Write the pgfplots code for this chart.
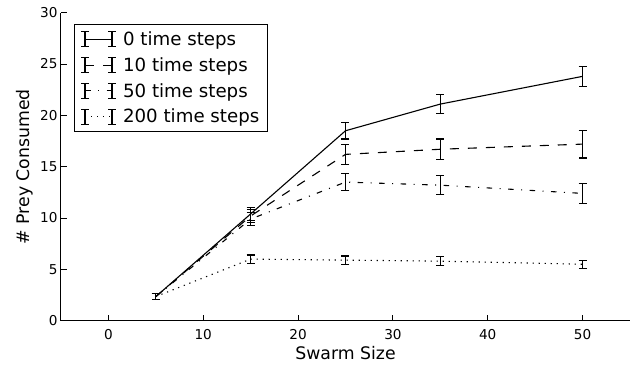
\documentclass[border=0pt]{standalone}
\usepackage{pgfplots}
\pgfplotsset{compat=1.18}
\usepackage{fontspec}
\setmainfont{DejaVu Sans}
\pgfplotsset{
  errleg/.style={legend image code/.code={
    \draw[##1] (0pt,0pt) -- (27pt,0pt);
    \draw[solid,line width=1.1pt] (0pt,-7.5pt) -- (0pt,7.5pt) (-4pt,-7.5pt) -- (4pt,-7.5pt) (-4pt,7.5pt) -- (4pt,7.5pt)
      (27pt,-7.5pt) -- (27pt,7.5pt) (23pt,-7.5pt) -- (31pt,-7.5pt) (23pt,7.5pt) -- (31pt,7.5pt);
  }}
}
\begin{document}
\begin{tikzpicture}
\useasboundingbox (-61pt,-46.3pt) rectangle (573pt,320.7pt);
\begin{axis}[
  scale only axis,
  width=569pt, height=308pt,
  xmin=-5, xmax=55, ymin=0, ymax=30,
  axis lines=left,
  axis line style={-, line width=1pt},
  tick align=inside,
  major tick length=6pt,
  tick style={line width=1pt, black},
  xtick={0,10,20,30,40,50},
  ytick={0,5,10,15,20,25,30},
  /pgf/number format/assume math mode=true,
  tick label style={font=\fontsize{13.6}{16}\selectfont},
  xticklabel style={yshift=-5pt},
  label style={font=\fontsize{17.3}{20}\selectfont},
  xlabel={Swarm Size},
  ylabel={\# Prey Consumed},
  legend style={at={(axis description cs:0.0158,0.976)}, anchor=north west,
    xshift=4pt, yshift=-4pt,
    font=\fontsize{18.2}{21}\selectfont, draw=black, line width=1pt,
    cells={anchor=west}, row sep=6.5pt, column sep=4.5pt, inner xsep=6pt, inner ysep=5pt},
  legend cell align=left,
  errleg,
  every axis plot/.append style={black, line width=1.1pt},
  error bars/y dir=both, error bars/y explicit,
  error bars/error bar style={solid, line width=1.1pt, black},
  error bars/error mark options={rotate=90, mark size=4pt, line width=1.1pt, black, solid},
]
\addplot[solid] coordinates {
 (5,2.35) +- (0,0.3)
 (15,10.4) +- (0,0.6)
 (25,18.5) +- (0,0.8)
 (35,21.1) +- (0,0.9)
 (50,23.8) +- (0,0.95)
};
\addlegendentry{0 time steps}
\addplot[dash pattern=on 9pt off 9pt] coordinates {
 (5,2.35) +- (0,0.3)
 (15,10.2) +- (0,0.6)
 (25,16.2) +- (0,1.0)
 (35,16.7) +- (0,1.0)
 (50,17.2) +- (0,1.35)
};
\addlegendentry{10 time steps}
\addplot[dash pattern=on 5.5pt off 7.5pt on 1pt off 7.5pt] coordinates {
 (5,2.35) +- (0,0.3)
 (15,9.9) +- (0,0.6)
 (25,13.5) +- (0,0.8)
 (35,13.2) +- (0,0.9)
 (50,12.4) +- (0,1.0)
};
\addlegendentry{50 time steps}
\addplot[dash pattern=on 1.2pt off 4.8pt] coordinates {
 (5,2.35) +- (0,0.3)
 (15,6.0) +- (0,0.4)
 (25,5.9) +- (0,0.4)
 (35,5.8) +- (0,0.45)
 (50,5.5) +- (0,0.4)
};
\addlegendentry{200 time steps}
\end{axis}
\end{tikzpicture}
\end{document}
